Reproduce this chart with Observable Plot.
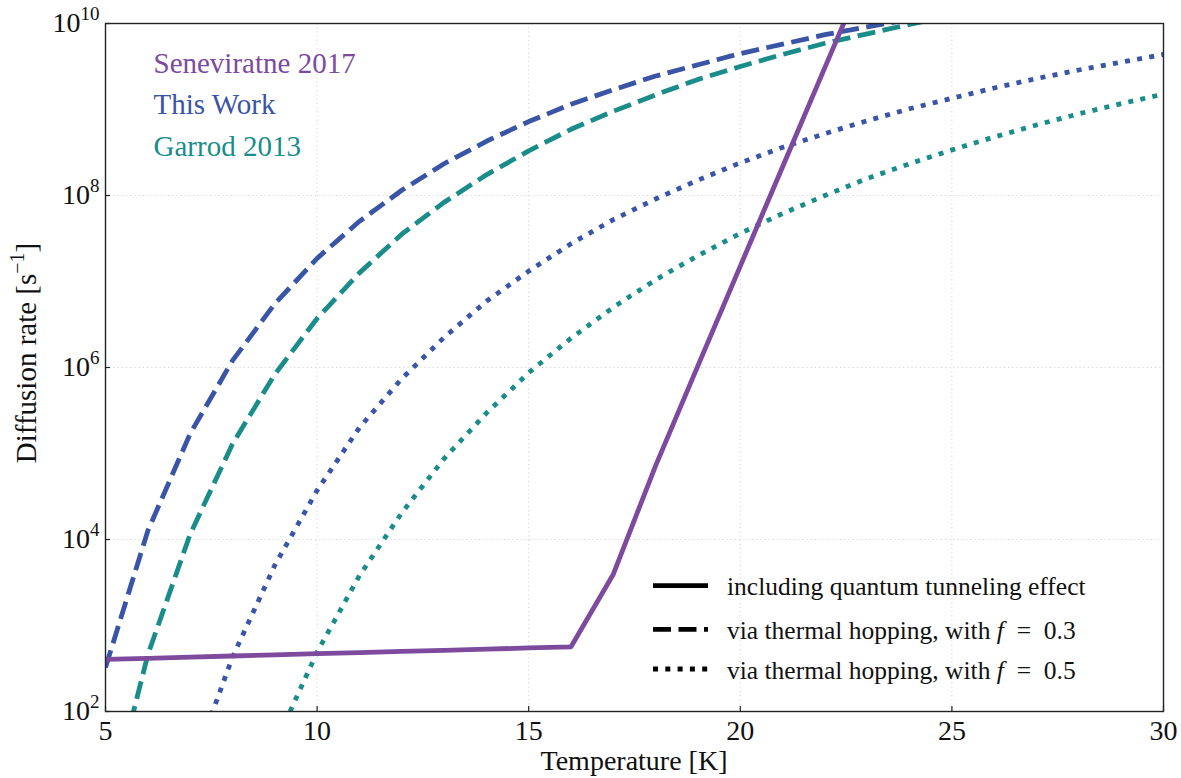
<!DOCTYPE html>
<html>
<head>
<meta charset="utf-8">
<script src="https://cdn.jsdelivr.net/npm/d3@7"></script>
<script src="https://cdn.jsdelivr.net/npm/@observablehq/plot@0.6"></script>
<style>
  html, body { margin: 0; padding: 0; background: #fff; }
  #chart { width: 1181px; height: 778px; }
</style>
</head>
<body>
<div id="chart"></div>
<script>
// Temperatures (K) at which the diffusion rates were evaluated
const temperature = [5, 6, 7, 8, 9, 10, 11, 12, 13, 14, 15, 16, 17, 18, 19, 20, 21, 22, 23, 24, 25, 26, 27, 28, 29, 30];

// Diffusion rates (s^-1); null where a curve has no value
const seneviratne2017 = [4.03e2, 4.15e2, 4.28e2, 4.42e2, 4.55e2, 4.70e2, 4.84e2, 4.99e2, 5.15e2, 5.31e2, 5.48e2, 5.65e2,
  3.95e3, 7.24e4, 1.05e6, 1.51e7, 2.16e8, 3.09e9, 4.37e10, null, null, null, null, null, null, null];
const thisWorkF03 = [3.24e2, 1.26e4, 1.70e5, 1.20e6, 5.50e6, 1.86e7, 5.01e7, 1.15e8, 2.34e8, 4.27e8, 7.24e8, 1.15e9,
  1.70e9, 2.45e9, 3.31e9, 4.47e9, 5.75e9, 7.41e9, 9.12e9, 1.12e10, null, null, null, null, null, null];
const garrodF03 = [5.13e0, 4.57e2, 1.15e4, 1.29e5, 8.32e5, 3.72e6, 1.26e7, 3.55e7, 8.32e7, 1.74e8, 3.31e8, 5.89e8,
  9.55e8, 1.48e9, 2.24e9, 3.16e9, 4.37e9, 5.89e9, 7.59e9, 9.77e9, 1.23e10, null, null, null, null, null];
const thisWorkF05 = [null, null, 1.91e1, 4.27e2, 5.01e3, 3.72e4, 2.00e5, 7.41e5, 2.24e6, 5.89e6, 1.32e7, 2.75e7,
  5.25e7, 9.12e7, 1.51e8, 2.40e8, 3.63e8, 5.25e8, 7.41e8, 1.02e9, 1.35e9, 1.78e9, 2.29e9, 2.88e9, 3.55e9, 4.37e9];
const garrodF05 = [null, null, null, null, 4.07e1, 4.90e2, 3.80e3, 2.04e4, 8.71e4, 2.95e5, 8.71e5, 2.19e6,
  5.01e6, 1.05e7, 2.00e7, 3.63e7, 6.17e7, 1.00e8, 1.58e8, 2.34e8, 3.39e8, 4.79e8, 6.61e8, 8.91e8, 1.17e9, 1.51e9];

// Source labels and their colours
const sourceNames = ["Seneviratne 2017", "This Work", "Garrod 2013"];
const sourceColors = ["#7d4a9d", "#3a54a6", "#1a8d8a"];

// Line-style legend
const styleLabels = ["including quantum tunneling effect", "via thermal hopping, with ", "via thermal hopping, with "];
const styleMath = [null, "0.3", "0.5"];

// Axis ticks
const xTicks = [5, 10, 15, 20, 25, 30];
const yTicks = [1e2, 1e4, 1e6, 1e8, 1e10];

const DASHED = "18,7.5";
const DOTTED = "5,7.3";
const LW = 4.8;
const FONT = "'Liberation Serif', 'DejaVu Serif', serif";

const rows = values => temperature
  .map((T, i) => ({T, rate: values[i]}))
  .filter(d => d.rate != null);

const line = (values, color, dash) => Plot.line(rows(values), {
  x: "T", y: "rate", stroke: color, strokeWidth: LW,
  strokeDasharray: dash, strokeLinecap: "butt", strokeLinejoin: "round", clip: true
});

const gridStyle = {stroke: "#d4d4d4", strokeOpacity: 1, strokeWidth: 1, strokeDasharray: "1.2,3"};

const plot = Plot.plot({
  width: 1181,
  height: 778,
  marginLeft: 105,
  marginRight: 18,
  marginTop: 23,
  marginBottom: 67,
  style: {fontFamily: FONT, fontSize: "28px", background: "#fff", color: "#111"},
  x: {domain: [5, 30]},
  y: {type: "log", domain: [1e2, 1e10]},
  marks: [
    Plot.gridX(xTicks, gridStyle),
    Plot.gridY(yTicks, gridStyle),
    line(garrodF05, sourceColors[2], DOTTED),
    line(thisWorkF05, sourceColors[1], DOTTED),
    line(garrodF03, sourceColors[2], DASHED),
    line(thisWorkF03, sourceColors[1], DASHED),
    line(seneviratne2017, sourceColors[0], null),
    // inward tick marks on the bottom and left spines
    Plot.ruleX(xTicks, {x: d => d, y1: 1e2, y2: 1e2, insetTop: 0, insetBottom: 5, stroke: "#222", strokeWidth: 1.2}),
    Plot.ruleY(yTicks, {y: d => d, x1: 5, x2: 5, insetLeft: 0, insetRight: -5, stroke: "#222", strokeWidth: 1.2}),
    Plot.axisX(xTicks, {tickSize: 0, tickPadding: 9, fontSize: 28, label: null, fill: "#111"}),
    Plot.axisY(yTicks, {tickSize: 0, tickPadding: 6, fontSize: 28, label: null, fill: "#111",
      tickFormat: d => String(Math.round(Math.log10(d)))}),
    Plot.frame({stroke: "#222", strokeWidth: 1.4}),
    ...sourceNames.map((name, i) => Plot.text([name], {
      frameAnchor: "top-left", dx: 48, dy: 40 + i * 41.7,
      text: d => d, fill: sourceColors[i], fontSize: 29, textAnchor: "start", lineAnchor: "middle"
    }))
  ]
});

document.getElementById("chart").appendChild(plot);

const svg = d3.select(plot);

// y tick labels as powers of ten
svg.selectAll('g[aria-label="y-axis tick label"] text').each(function () {
  const exp = this.textContent;
  const t = d3.select(this);
  t.text(null);
  t.append("tspan").text("10");
  t.append("tspan").attr("font-size", 19).attr("dy", -12).text(exp);
});

// axis titles
svg.append("text")
  .attr("x", 634).attr("y", 770)
  .attr("text-anchor", "middle")
  .attr("font-family", FONT).attr("font-size", 28).attr("fill", "#111")
  .text("Temperature [K]");

const yTitle = svg.append("text")
  .attr("transform", "translate(36,353) rotate(-90)")
  .attr("text-anchor", "middle")
  .attr("font-family", FONT).attr("font-size", 29).attr("fill", "#111");
yTitle.append("tspan").text("Diffusion rate [s");
yTitle.append("tspan").attr("font-size", 20).attr("dy", -12).text("\u22121");
yTitle.append("tspan").attr("dy", 12).text("]");

// line-style legend
const rowY = [585.7, 629.3, 669];
const sampleDash = [null, DASHED, DOTTED];
const legend = svg.append("g").attr("aria-label", "line style legend");
rowY.forEach((y, i) => {
  legend.append("line")
    .attr("x1", 653).attr("x2", 708).attr("y1", y).attr("y2", y)
    .attr("stroke", "#000").attr("stroke-width", LW)
    .attr("stroke-dasharray", sampleDash[i]);
  const t = legend.append("text")
    .attr("x", 727).attr("y", y + 9.5)
    .attr("text-anchor", "start")
    .attr("font-family", FONT).attr("font-size", 25.5).attr("fill", "#111");
  t.append("tspan").text(styleLabels[i]);
  if (styleMath[i]) {
    t.append("tspan").attr("font-style", "italic").text("f");
    t.append("tspan").text("\u2002=\u2002" + styleMath[i]);
  }
});
</script>
</body>
</html>
